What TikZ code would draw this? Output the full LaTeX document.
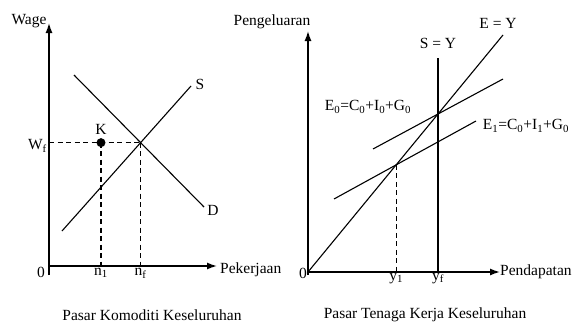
\documentclass[tikz,border=0pt]{standalone}
\usepackage{fontspec}
\setmainfont{Liberation Serif}
\usetikzlibrary{arrows.meta}
\begin{document}
\begin{tikzpicture}[x=1pt, y=-1pt,
        eje/.style={-{Latex[length=10pt,width=7pt]}, line width=1.4pt},
        curva/.style={line width=1.1pt},
        guia/.style={dash pattern=on 5pt off 3.5pt, line width=1.1pt},
        texto/.style={inner sep=0pt, font=\fontsize{15.5}{18}\selectfont}
    ]
        \useasboundingbox (0,0) rectangle (576,324);

        % ---------------- PANEL IZQUIERDO ----------------
        % Ejes
        \coordinate (origen_izq) at (49,266);
        \coordinate (pie_izq) at (49,275);
        \coordinate (tope_izq) at (49,23);
        \coordinate (fin_izq) at (217,266);
        \draw[eje] (pie_izq) -- (tope_izq);
        \draw[eje] (origen_izq) -- (fin_izq);
        \node[texto] (wage) at (29,21) {Wage};
        \node[texto, anchor=west] (pekerjaan) at (220,270) {Pekerjaan};
        \node[texto] (cero_izq) at (41,272) {0};

        % Curvas de demanda y oferta
        \coordinate (dem_ini) at (74,75);
        \coordinate (dem_fin) at (204,207);
        \coordinate (ofe_ini) at (62,231);
        \coordinate (ofe_fin) at (191,86);
        \draw[curva] (dem_ini) -- (dem_fin);
        \draw[curva] (ofe_ini) -- (ofe_fin);
        \node[texto] (lbl_s) at (200,84) {S};
        \node[texto] (lbl_d) at (213,210) {D};

        % Equilibrio y punto K
        \coordinate (eq_izq) at (intersection of dem_ini--dem_fin and ofe_ini--ofe_fin);
        \coordinate (n1) at (101,266);
        \coordinate (k) at (n1 |- eq_izq);
        \draw[guia] (eq_izq -| origen_izq) -- (eq_izq);
        \draw[guia] (k) -- (n1);
        \draw[guia] (eq_izq) -- (eq_izq |- origen_izq);
        \fill (k) circle (4.5pt);
        \node[texto, anchor=south, yshift=8pt] (lbl_k) at (k) {K};
        \node[texto, anchor=east, xshift=-2pt, yshift=-3pt] (wf) at (eq_izq -| origen_izq) {W\textsubscript{f}};
        \node[texto, anchor=north, yshift=-2pt] (lbl_n1) at (n1) {n\textsubscript{1}};
        \node[texto, anchor=north, yshift=-2pt] (lbl_nf) at (eq_izq |- origen_izq) {n\textsubscript{f}};

        % Titulo
        \node[texto] (titulo_izq) at (152,315) {Pasar Komoditi Keseluruhan};

        % ---------------- PANEL DERECHO ----------------
        % Ejes
        \coordinate (origen_der) at (308,272);
        \coordinate (pie_der) at (308,275);
        \coordinate (tope_der) at (308,31);
        \coordinate (fin_der) at (500,272);
        \draw[eje] (pie_der) -- (tope_der);
        \draw[eje] (origen_der) -- (fin_der);
        \node[texto] (pengeluaran) at (272,22) {Pengeluaran};
        \node[texto, anchor=west] (pendapatan) at (500,272) {Pendapatan};
        \node[texto] (cero_der) at (303,273) {0};

        % Rectas E = Y y S = Y
        \coordinate (ey_fin) at (503,35);
        \coordinate (sy_tope) at (438,58);
        \draw[curva] (origen_der) -- (ey_fin);
        \draw[curva] (sy_tope) -- (sy_tope |- origen_der);
        \node[texto] (lbl_ey) at (498,23) {E = Y};
        \node[texto] (lbl_sy) at (438,43) {S = Y};

        % Gasto agregado E0 y E1
        \coordinate (e0_ini) at (373,149);
        \coordinate (e0_fin) at (503,79);
        \coordinate (e1_ini) at (334,199);
        \coordinate (e1_fin) at (476,121);
        \draw[curva] (e0_ini) -- (e0_fin);
        \draw[curva] (e1_ini) -- (e1_fin);
        \node[texto] (lbl_e0) at (368,107) {E\textsubscript{0}=C\textsubscript{0}+I\textsubscript{0}+G\textsubscript{0}};
        \node[texto] (lbl_e1) at (526,126) {E\textsubscript{1}=C\textsubscript{0}+I\textsubscript{1}+G\textsubscript{0}};

        % Equilibrio y1
        \coordinate (eq_der) at (intersection of origen_der--ey_fin and e1_ini--e1_fin);
        \draw[guia] (eq_der) -- (eq_der |- origen_der);
        \node[texto, anchor=north, yshift=-1pt] (lbl_y1) at (eq_der |- origen_der) {y\textsubscript{1}};
        \node[texto, anchor=north, yshift=-1pt] (lbl_yf) at (sy_tope |- origen_der) {y\textsubscript{f}};

        % Titulo
        \node[texto] (titulo_der) at (425,315) {Pasar Tenaga Kerja Keseluruhan};
\end{tikzpicture}
\end{document}
